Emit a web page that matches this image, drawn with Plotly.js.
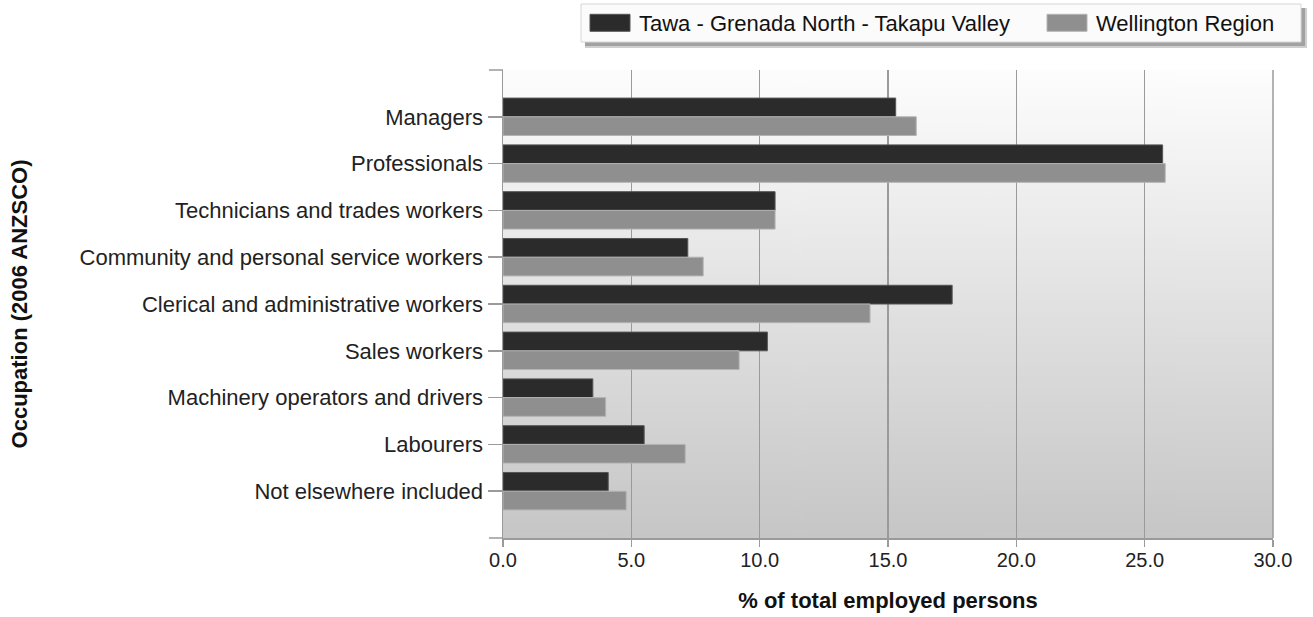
<!DOCTYPE html>
<html>
<head>
<meta charset="utf-8">
<script src="https://cdn.plot.ly/plotly-3.0.1.min.js"></script>
<style>
  html, body { margin: 0; padding: 0; background: #ffffff; }
  #chart { width: 1313px; height: 617px; }
</style>
</head>
<body>
<div id="chart"></div>
<script>
// ---- Data ----
const categories = [
  'Managers',
  'Professionals',
  'Technicians and trades workers',
  'Community and personal service workers',
  'Clerical and administrative workers',
  'Sales workers',
  'Machinery operators and drivers',
  'Labourers',
  'Not elsewhere included'
];
const seriesNames = ['Tawa - Grenada North - Takapu Valley', 'Wellington Region'];
const tawaValues = [15.3, 25.7, 10.6, 7.2, 17.5, 10.3, 3.5, 5.5, 4.1];
const wellingtonValues = [16.1, 25.8, 10.6, 7.8, 14.3, 9.2, 4.0, 7.1, 4.8];
const xTickValues = [0, 5, 10, 15, 20, 25, 30];
const xTitle = '% of total employed persons';
const yTitle = 'Occupation (2006 ANZSCO)';

// ---- Layout constants (pixels) ----
const W = 1313, H = 617;
const M = { l: 503, r: 40, t: 70, b: 79, autoexpand: false };
const PW = W - M.l - M.r;   // plot width
const PH = H - M.t - M.b;   // plot height
const FONT = 'Liberation Sans, Arial, sans-serif';

// gradient background for plot area
function gradientURL() {
  const c = document.createElement('canvas');
  c.width = 4; c.height = 256;
  const g = c.getContext('2d');
  const gr = g.createLinearGradient(0, 0, 0, 256);
  gr.addColorStop(0, '#fdfdfd');
  gr.addColorStop(1, '#c6c6c6');
  g.fillStyle = gr;
  g.fillRect(0, 0, 4, 256);
  return c.toDataURL('image/png');
}

const px2x = p => (p - M.l) / PW;        // page px -> paper x
const py2y = p => (H - M.b - p) / PH;    // page px -> paper y

const traces = [
  {
    type: 'bar', orientation: 'h', name: seriesNames[0], legend: 'legend',
    y: categories, x: tawaValues,
    marker: { color: '#2b2b2b', line: { color: '#555555', width: 1 } },
    hoverinfo: 'x+y'
  },
  {
    type: 'bar', orientation: 'h', name: seriesNames[1], legend: 'legend2',
    y: categories, x: wellingtonValues,
    marker: { color: '#8f8f8f', line: { color: '#b4b4b4', width: 1 } },
    hoverinfo: 'x+y'
  }
];

const axisColor = '#9a9a9a';
const legendCommon = {
  orientation: 'h',
  xanchor: 'left', yanchor: 'middle',
  bgcolor: 'rgba(0,0,0,0)', borderwidth: 0,
  font: { family: FONT, size: 22, color: '#111111' },
  itemwidth: 48
};

const layout = {
  width: W, height: H,
  margin: M,
  paper_bgcolor: '#ffffff',
  plot_bgcolor: 'rgba(0,0,0,0)',
  barmode: 'group',
  bargap: 0.2,
  bargroupgap: 0,
  font: { family: FONT, size: 22, color: '#222222' },
  showlegend: true,
  legend: Object.assign({}, legendCommon, { x: px2x(581), y: py2y(23) }),
  legend2: Object.assign({}, legendCommon, { x: px2x(1038), y: py2y(23) }),
  xaxis: {
    range: [0, 30],
    tickvals: xTickValues,
    tickformat: '.1f',
    ticks: 'outside', ticklen: 7, tickcolor: axisColor, tickwidth: 1.5,
    ticklabelstandoff: -4,
    showgrid: true, gridcolor: axisColor, gridwidth: 1.5,
    zeroline: false,
    showline: true, linecolor: axisColor, linewidth: 1.5,
    tickfont: { family: FONT, size: 20, color: '#222222' },
    title: { text: xTitle, font: { family: FONT, size: 22, color: '#111111', weight: 'bold' }, standoff: 23 },
    fixedrange: true
  },
  yaxis: {
    type: 'category',
    categoryorder: 'array', categoryarray: categories,
    range: [9, -1],
    ticks: 'outside', ticklen: 14, tickcolor: axisColor, tickwidth: 1.5,
    showgrid: false, zeroline: false,
    showline: true, linecolor: axisColor, linewidth: 1.5,
    tickfont: { family: FONT, size: 22, color: '#222222' },
    title: { text: yTitle, font: { family: FONT, size: 22, color: '#111111', weight: 'bold' }, standoff: 46 },
    fixedrange: true
  },
  images: [{
    source: gradientURL(), xref: 'paper', yref: 'paper',
    x: 0, y: 1, sizex: 1, sizey: 1, sizing: 'stretch',
    xanchor: 'left', yanchor: 'top', layer: 'below'
  }],
  shapes: [
    // legend shadow (soft outer + darker inner)
    { type: 'rect', xref: 'paper', yref: 'paper', layer: 'above',
      x0: px2x(585), x1: px2x(1307), y0: py2y(8), y1: py2y(48),
      fillcolor: '#cfcfcf', line: { width: 0 } },
    { type: 'rect', xref: 'paper', yref: 'paper', layer: 'above',
      x0: px2x(585), x1: px2x(1305), y0: py2y(8), y1: py2y(46),
      fillcolor: '#a2a2a2', line: { width: 0 } },
    // legend box
    { type: 'rect', xref: 'paper', yref: 'paper', layer: 'above',
      x0: px2x(581), x1: px2x(1301), y0: py2y(4), y1: py2y(42),
      fillcolor: '#fbfbfb', line: { color: '#d6d6d6', width: 1 } },
    // right border of plot area
    { type: 'line', xref: 'paper', yref: 'paper', x0: 1, x1: 1, y0: 0, y1: 1,
      line: { color: axisColor, width: 1.5 } },
    // boundary ticks on category axis
    { type: 'line', xref: 'paper', yref: 'paper', x0: -14 / PW, x1: 0, y0: 1, y1: 1,
      line: { color: axisColor, width: 1.5 } },
    { type: 'line', xref: 'paper', yref: 'paper', x0: -14 / PW, x1: 0, y0: 0, y1: 0,
      line: { color: axisColor, width: 1.5 } }
  ]
};

Plotly.newPlot('chart', traces, layout, { displayModeBar: false, staticPlot: true }).then(gd => {
  // widen the legend swatches to the reference's rectangular key style
  gd.querySelectorAll('.legendpoints path').forEach(p => {
    p.setAttribute('d', 'M20,8.5H-20V-8.5H20Z');
  });
});
</script>
</body>
</html>
